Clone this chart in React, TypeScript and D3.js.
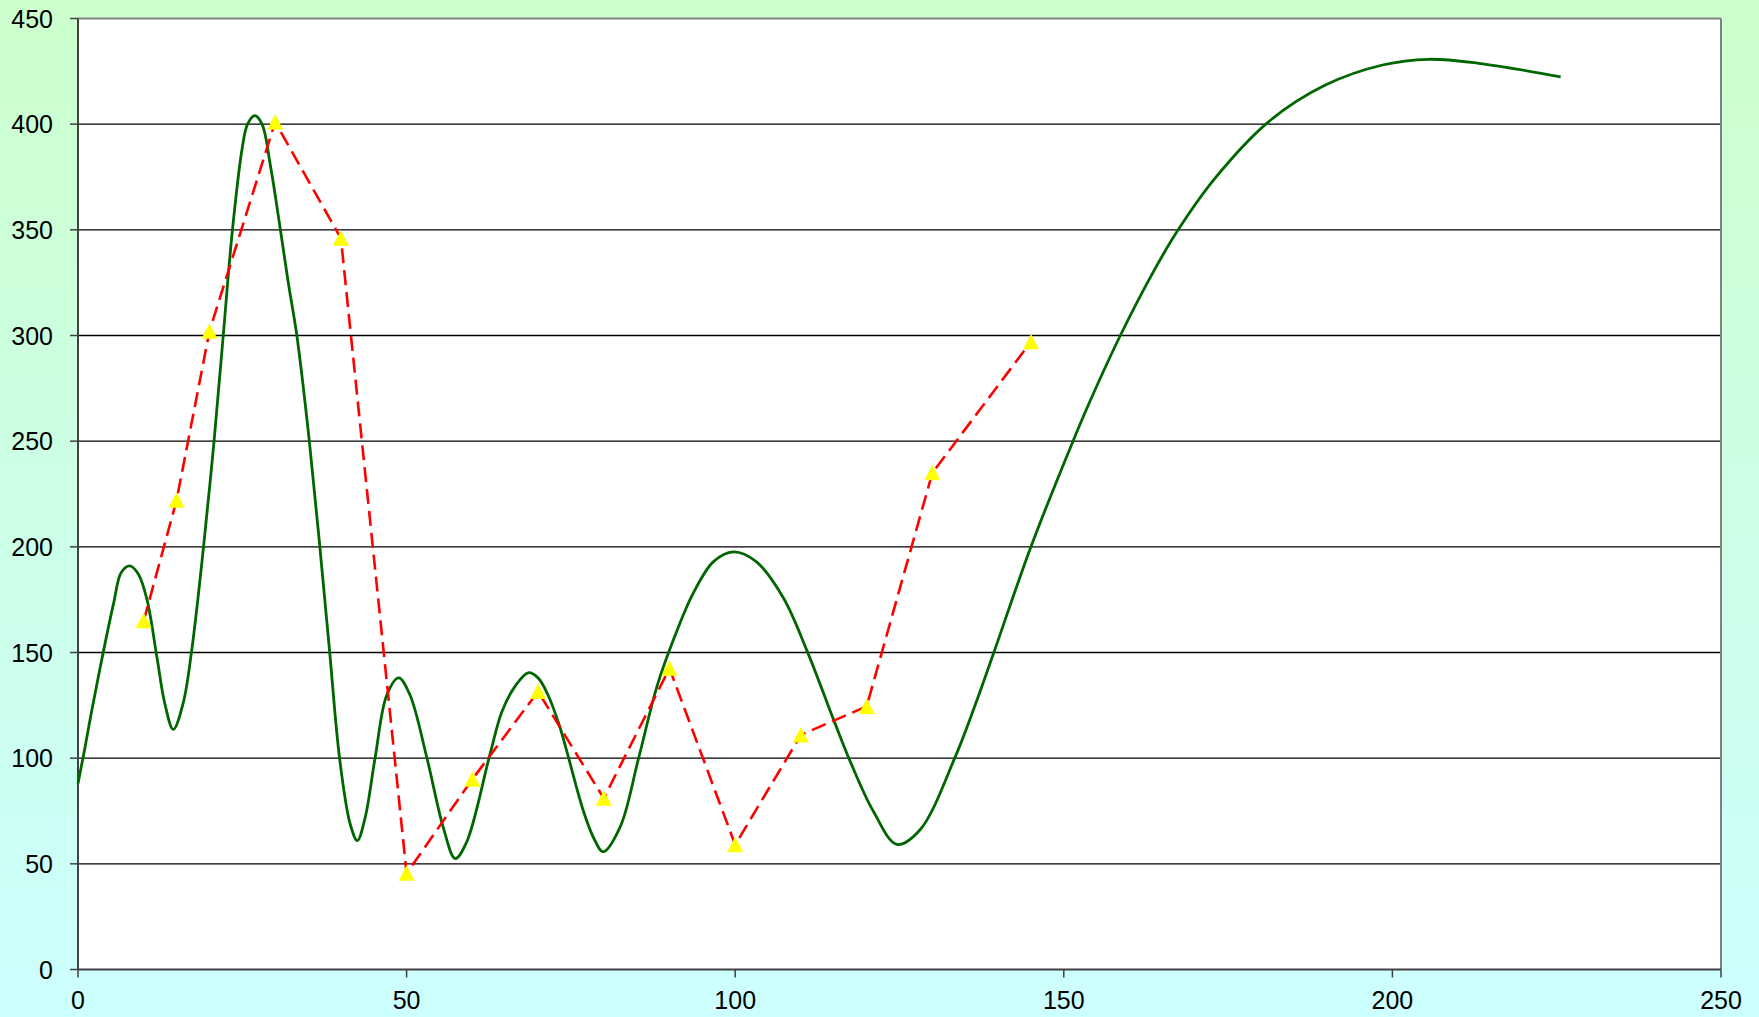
import React from "react";
import * as d3 from "d3";

const W = 1759;
const H = 1017;

const xTicks = [0, 50, 100, 150, 200, 250];
const yTicks = [0, 50, 100, 150, 200, 250, 300, 350, 400, 450];

// Smooth (green) series
const greenX = [
  0, 1, 2, 3, 3.9, 5.4, 6.6, 7.9, 9.2, 10.5, 12, 13.2, 14.5, 16, 17.3, 19.1, 20.7, 22.1, 23.5, 25, 25.8, 26.9,
  28, 29.3, 30.8, 32, 33.3, 35.2, 36.8, 38.3, 39.8, 41.4, 42.5, 43.7, 45.2, 47, 48.8, 50.5, 53.1, 55.6, 57.4,
  59.1, 62.7, 64.5, 66.5, 68.5, 70, 71.5, 73.3, 74.4, 76.9, 78.5, 79.9, 82.5, 85.3, 88.1, 90.6, 93.6, 96.7,
  99.7, 103.2, 107.3, 110.9, 115, 117.5, 121, 124.6, 128.1, 133.4, 136.5, 139.3, 145, 151.4, 154, 158.6, 163.6,
  167.4, 172.9, 181.1, 189.8, 198.5, 205.5, 213.1, 225.6,
];
const greenY = [
  88, 104, 121, 137, 151, 173, 188, 191, 187, 175, 148, 126, 113.6, 126, 151, 200, 250, 300, 350, 389, 400, 404,
  400, 380, 350, 325, 300, 250, 200, 150, 100, 69, 61, 72, 100, 130, 138, 130, 100, 67, 52.5,
  60, 102, 122, 134, 140.4, 138, 130, 115, 103, 75, 62, 55.7, 67.5, 100, 134, 156, 178, 193,
  197.6, 193, 176, 151, 118, 98.5, 75, 59.2, 66, 100, 125, 149.5, 200, 250, 269, 300, 330,
  350, 374, 401, 418.5, 428, 430.7, 428.8, 422.4,
];

// Dashed (red) series with triangle markers
const redX = [10, 15, 20, 30, 40, 50, 60, 70, 80, 90, 100, 110, 120, 130, 145];
const redY = [165, 222, 302, 401, 346, 45.5, 90, 131.5, 81, 142.5, 59, 111, 124.5, 235, 297];

export default function App() {
  const left = 78;
  const right = 1721;
  const top = 18.5;
  const bottom = 969.5;

  const x = d3.scaleLinear().domain([0, 250]).range([left, right]);
  const y = d3.scaleLinear().domain([0, 450]).range([bottom, top]);

  const green = greenX.map((v, i) => [v, greenY[i]] as [number, number]);
  const red = redX.map((v, i) => [v, redY[i]] as [number, number]);

  const greenPath = d3
    .line<[number, number]>()
    .x((d) => x(d[0]))
    .y((d) => y(d[1]))
    .curve(d3.curveCatmullRom.alpha(0.5))(green) as string;

  const redPath = d3
    .line<[number, number]>()
    .x((d) => x(d[0]))
    .y((d) => y(d[1]))
    .curve(d3.curveLinear)(red) as string;

  const font = "'Liberation Sans', Arial, sans-serif";

  return (
    <svg
      width={W}
      height={H}
      style={{ position: "absolute", left: 0, top: 0, display: "block" }}
    >
      <defs>
        <linearGradient id="bg" x1="0" y1="0" x2="0" y2="1">
          <stop offset="0" stopColor="#ccffcc" />
          <stop offset="1" stopColor="#ccffff" />
        </linearGradient>
      </defs>
      <rect x={0} y={0} width={W} height={H} fill="url(#bg)" />
      <rect x={left} y={top} width={right - left} height={bottom - top} fill="#ffffff" />

      {/* gridlines */}
      {yTicks.slice(1, -1).map((t) => (
        <line key={"g" + t} x1={left} x2={right} y1={y(t)} y2={y(t)} stroke="#000" strokeWidth={1.3} />
      ))}

      {/* border top/right */}
      <line x1={left} x2={right} y1={top} y2={top} stroke="#808080" strokeWidth={2} />
      <line x1={right} x2={right} y1={top} y2={bottom} stroke="#808080" strokeWidth={2} />

      {/* axes */}
      <line x1={left} x2={left} y1={top} y2={bottom} stroke="#404040" strokeWidth={2} />
      <line x1={left} x2={right} y1={bottom} y2={bottom} stroke="#404040" strokeWidth={2} />

      {yTicks.map((t) => (
        <g key={"y" + t}>
          <line x1={left - 8} x2={left} y1={y(t)} y2={y(t)} stroke="#404040" strokeWidth={1.5} />
          <text
            x={53}
            y={y(t) + 9}
            textAnchor="end"
            fontFamily={font}
            fontSize={25}
            fill="#000"
          >
            {t}
          </text>
        </g>
      ))}

      {xTicks.map((t) => (
        <g key={"x" + t}>
          <line x1={x(t)} x2={x(t)} y1={bottom} y2={bottom + 8} stroke="#404040" strokeWidth={1.5} />
          <text
            x={x(t)}
            y={1009}
            textAnchor="middle"
            fontFamily={font}
            fontSize={25}
            fill="#000"
          >
            {t}
          </text>
        </g>
      ))}

      <path d={greenPath} fill="none" stroke="#006600" strokeWidth={2.8} strokeLinejoin="round" />
      <path
        d={redPath}
        fill="none"
        stroke="#ff0000"
        strokeWidth={2.6}
        strokeDasharray="15,7"
      />
      {red.map((d, i) => (
        <path
          key={"m" + i}
          transform={`translate(${x(d[0])},${y(d[1])})`}
          d="M0,-8L8,7.5L-8,7.5Z"
          fill="#ffff00"
        />
      ))}
    </svg>
  );
}
